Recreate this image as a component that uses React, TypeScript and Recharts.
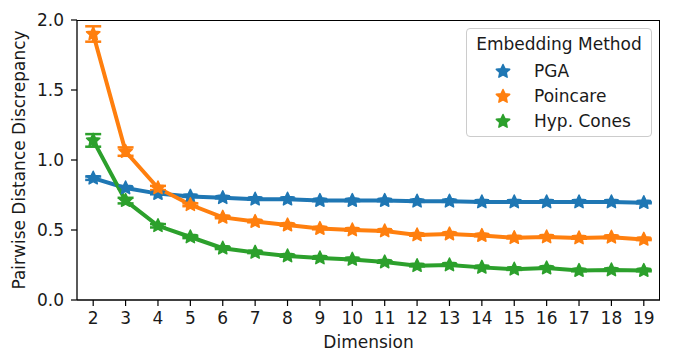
import React from 'react';
import { LineChart, Line, XAxis, YAxis, ErrorBar } from 'recharts';

const dims = [2, 3, 4, 5, 6, 7, 8, 9, 10, 11, 12, 13, 14, 15, 16, 17, 18, 19];
const pga = [0.87, 0.80, 0.76, 0.74, 0.73, 0.72, 0.72, 0.71, 0.71, 0.71, 0.705, 0.705, 0.70, 0.70, 0.70, 0.70, 0.70, 0.695];
const poincare = [1.90, 1.06, 0.80, 0.68, 0.59, 0.56, 0.535, 0.51, 0.50, 0.493, 0.464, 0.471, 0.46, 0.445, 0.45, 0.443, 0.448, 0.433];
const cones = [1.14, 0.71, 0.53, 0.45, 0.37, 0.34, 0.314, 0.30, 0.29, 0.271, 0.245, 0.25, 0.233, 0.22, 0.228, 0.21, 0.214, 0.21];
const pgaErr = [0.012, 0.006, 0.005, 0.004, 0.004, 0.004, 0.004, 0.004, 0.004, 0.004, 0.004, 0.004, 0.004, 0.004, 0.004, 0.004, 0.004, 0.004];
const poincareErr = [0.055, 0.03, 0.015, 0.01, 0.006, 0.005, 0.005, 0.005, 0.005, 0.005, 0.005, 0.005, 0.005, 0.005, 0.005, 0.005, 0.005, 0.005];
const conesErr = [0.045, 0.02, 0.012, 0.008, 0.006, 0.005, 0.005, 0.005, 0.005, 0.005, 0.005, 0.005, 0.005, 0.005, 0.005, 0.005, 0.005, 0.005];
const yTicks = [0, 0.5, 1.0, 1.5, 2.0];

const seriesNames = ['PGA', 'Poincare', 'Hyp. Cones'];
const colors = ['#1f77b4', '#ff7f0e', '#2ca02c'];

const data = dims.map((d, i) => ({
  dim: String(d),
  pga: pga[i],
  poincare: poincare[i],
  cones: cones[i],
  pgaErr: pgaErr[i],
  poincareErr: poincareErr[i],
  conesErr: conesErr[i],
}));

const FONT = 'DejaVu Sans';
const TXT = '#1a1a1a';

function starPoints(cx: number, cy: number, R: number, r: number) {
  const pts: string[] = [];
  for (let k = 0; k < 10; k++) {
    const rad = k % 2 === 0 ? R : r;
    const a = -Math.PI / 2 + (k * Math.PI) / 5;
    pts.push(`${cx + rad * Math.cos(a)},${cy + rad * Math.sin(a)}`);
  }
  return pts.join(' ');
}

const makeStar = (color: string) => (props: any) => {
  const { cx, cy, index } = props;
  if (cx == null || cy == null) return <g key={index} />;
  return (
    <polygon
      key={index}
      points={starPoints(cx, cy, 7, 3.4)}
      fill={color}
      stroke={color}
      strokeWidth={1.5}
      strokeLinejoin="round"
    />
  );
};

const LegendBox = () => (
  <div
    style={{
      position: 'absolute',
      left: 466,
      top: 28,
      width: 184,
      height: 107,
      border: '1px solid #cccccc',
      borderRadius: 4,
      background: 'rgba(255,255,255,0.8)',
      fontFamily: FONT,
      fontSize: 17,
      color: TXT,
      boxSizing: 'content-box',
    }}
  >
    <div style={{ position: 'absolute', left: 0, width: 184, top: 3, textAlign: 'center', lineHeight: '24px' }}>
      Embedding Method
    </div>
    {seriesNames.map((n, i) => (
      <div key={n} style={{ position: 'absolute', left: 0, top: 30 + i * 25, height: 24, width: 184 }}>
        <svg width={20} height={20} style={{ position: 'absolute', left: 26, top: 2 }}>
          <polygon points={starPoints(10, 10.5, 7, 3.4)} fill={colors[i]} stroke={colors[i]} strokeWidth={1.5} strokeLinejoin="round" />
        </svg>
        <div style={{ position: 'absolute', left: 67, top: 0, lineHeight: '24px' }}>{n}</div>
      </div>
    ))}
  </div>
);

const YLabel = () => {
  const cy = 160;
  const cx = 19;
  return (
    <text
      x={cx}
      y={cy}
      transform={`rotate(-90 ${cx} ${cy})`}
      textAnchor="middle"
      dominantBaseline="central"
      fontFamily={FONT}
      fontSize={17}
      fill={TXT}
    >
      Pairwise Distance Discrepancy
    </text>
  );
};

const XLabel = () => (
  <text x={368.5} y={348} textAnchor="middle" fontFamily={FONT} fontSize={17} fill={TXT}>
    Dimension
  </text>
);

export default function App() {
  const tickStyle = { fontFamily: FONT, fontSize: 17, fill: TXT };
  const keys = ['pga', 'poincare', 'cones'];
  return (
    <div style={{ position: 'absolute', left: 0, top: 0, width: 673, height: 352, background: '#fff' }}>
      <LineChart width={673} height={352} data={data} margin={{ top: 20, right: 13, left: 0, bottom: 0 }}>
        <XAxis
          dataKey="dim"
          type="category"
          scale="band"
          height={52}
          tick={tickStyle}
          tickLine={{ stroke: '#000', strokeWidth: 1.2 }}
          axisLine={{ stroke: '#000', strokeWidth: 1.3 }}
          tickSize={6}
          tickMargin={6}
          interval={0}
          label={<XLabel />}
        />
        <YAxis
          domain={[0, 2]}
          ticks={yTicks}
          width={77}
          tick={tickStyle}
          tickFormatter={(v: number) => v.toFixed(1)}
          tickLine={{ stroke: '#000', strokeWidth: 1.2 }}
          axisLine={{ stroke: '#000', strokeWidth: 1.3 }}
          tickSize={6}
          tickMargin={7}
          allowDataOverflow
          label={<YLabel />}
        />
        {keys.map((k, i) => (
          <Line
            key={k}
            dataKey={k}
            name={seriesNames[i]}
            stroke={colors[i]}
            strokeWidth={4}
            dot={makeStar(colors[i])}
            activeDot={false}
            isAnimationActive={false}
          >
            <ErrorBar dataKey={`${k}Err`} width={8} stroke={colors[i]} strokeWidth={2.5} direction="y" />
          </Line>
        ))}
      </LineChart>
      <div
        style={{
          position: 'absolute',
          left: 77,
          top: 19.5,
          width: 583,
          height: 280,
          borderTop: '1.3px solid #000',
          borderRight: '1.3px solid #000',
          pointerEvents: 'none',
          boxSizing: 'border-box',
        }}
      />
      <LegendBox />
    </div>
  );
}
